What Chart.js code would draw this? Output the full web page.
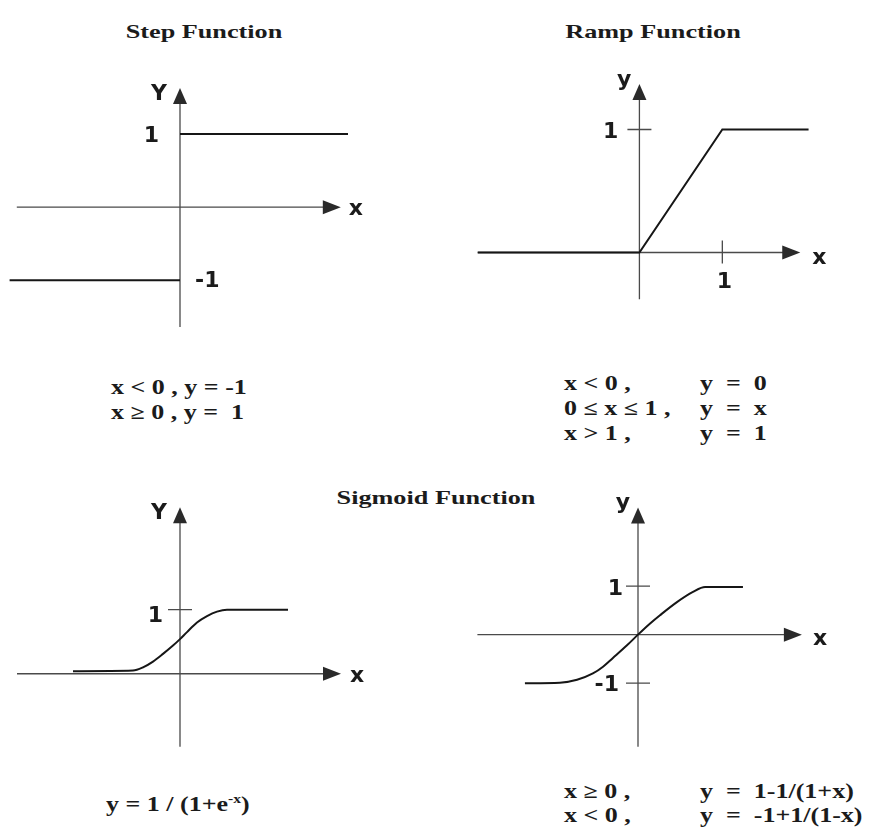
<!DOCTYPE html>
<html>
<head>
<meta charset="utf-8">
<script src="https://cdn.jsdelivr.net/npm/chart.js@4.4.1/dist/chart.umd.min.js"></script>
<style>
body { margin: 0; background: #fff; width: 872px; height: 834px; position: relative; overflow: hidden;
       font-family: "Liberation Serif", "Times New Roman", serif; color: #1b1b1b; }
canvas { position: absolute; }
.t { position: absolute; font-weight: bold; white-space: pre; line-height: 1; }
.title { font-size: 19px; transform: translate(-50%, -50%) scaleX(1.38); }
.eq { font-size: 20px; transform-origin: 0 50%; transform: translateY(-50%) scaleX(1.3); }
sup { font-size: 12px; vertical-align: 8px; }
</style>
</head>
<body>

<div class="t title" style="left:204px; top:31px">Step Function</div>
<div class="t title" style="left:653px; top:31px">Ramp Function</div>
<div class="t title" style="left:436px; top:497px">Sigmoid Function</div>

<canvas id="stepChart" width="380" height="285" style="left:0px; top:61px"></canvas>
<canvas id="rampChart" width="398" height="246" style="left:457px; top:68px"></canvas>
<canvas id="sigChart" width="380" height="269" style="left:0px; top:488px"></canvas>
<canvas id="bipChart" width="396" height="267" style="left:462px; top:489px"></canvas>

<!-- equations -->
<div class="t eq" style="left:111px; top:387px">x &lt; 0 , y = -1</div>
<div class="t eq" style="left:111px; top:412px">x ≥ 0 , y =  1</div>

<div class="t eq" style="left:564px; top:383px">x &lt; 0 ,</div>
<div class="t eq" style="left:700px; top:383px">y  =  0</div>
<div class="t eq" style="left:564px; top:408px">0 ≤ x ≤ 1 ,</div>
<div class="t eq" style="left:700px; top:408px">y  =  x</div>
<div class="t eq" style="left:564px; top:433px">x &gt; 1 ,</div>
<div class="t eq" style="left:700px; top:433px">y  =  1</div>

<div class="t eq" style="left:106px; top:803px">y = 1 / (1+e<sup>-x</sup>)</div>

<div class="t eq" style="left:564px; top:791px">x ≥ 0 ,</div>
<div class="t eq" style="left:700px; top:791px">y  =  1-1/(1+x)</div>
<div class="t eq" style="left:564px; top:815px">x &lt; 0 ,</div>
<div class="t eq" style="left:700px; top:815px">y  =  -1+1/(1-x)</div>

<script>
// step function, two halves
const stepNegX = [-2.13, 0];
const stepNegY = [-1, -1];
const stepPosX = [0, 2.1];
const stepPosY = [1, 1];

// ramp function
const rampX = [-1.95, 0, 1, 2.04];
const rampY = [0, 0, 1, 1];

// sigmoid (0..1)
const sigX = [-10.7, -4.7, -3.7, -2.7, -1.7, -0.7, 0, 0.7, 1.7, 2.7, 3.7, 4.7, 10.8];
const sigY = [0.04, 0.05, 0.1, 0.19, 0.31, 0.44, 0.54, 0.65, 0.8, 0.9, 0.97, 1, 1];

// bipolar sigmoid (-1..1)
const bipX = [-5.14, -3.55, -2.77, -2.05, -1.59, -1.14, -0.5, 0, 0.55, 1, 1.77, 2.5, 3.05, 4.77];
const bipY = [-1, -0.99, -0.93, -0.8, -0.66, -0.48, -0.22, 0, 0.23, 0.4, 0.67, 0.88, 0.98, 0.98];

const pts = (xs, ys) => xs.map((x, i) => ({ x: x, y: ys[i] }));

const LABEL_FONT = 'bold 22px "DejaVu Sans", Verdana, sans-serif';

function axesPlugin(cfg) {
    return {
        id: 'axes',
        beforeDatasetsDraw(chart) {
            const ctx = chart.ctx;
            const sx = chart.scales.x, sy = chart.scales.y;
            const ox = sx.getPixelForValue(0), oy = sy.getPixelForValue(0);
            const xl = sx.getPixelForValue(cfg.xAxis[0]), xr = sx.getPixelForValue(cfg.xAxis[1]);
            const yb = sy.getPixelForValue(cfg.yAxis[0]), yt = sy.getPixelForValue(cfg.yAxis[1]);
            ctx.save();
            ctx.strokeStyle = '#4a4a4a';
            ctx.fillStyle = '#2a2a2a';
            ctx.lineWidth = 1.3;
            ctx.beginPath();
            ctx.moveTo(xl, oy); ctx.lineTo(xr - 6, oy);
            ctx.moveTo(ox, yb); ctx.lineTo(ox, yt + 6);
            // tick marks
            (cfg.yTicks || []).forEach(v => {
                const p = sy.getPixelForValue(v);
                ctx.moveTo(ox - 12, p); ctx.lineTo(ox + 12, p);
            });
            (cfg.xTicks || []).forEach(v => {
                const p = sx.getPixelForValue(v);
                ctx.moveTo(p, oy - 12); ctx.lineTo(p, oy + 11);
            });
            ctx.stroke();
            // arrow heads
            ctx.beginPath();
            ctx.moveTo(xr, oy); ctx.lineTo(xr - 18, oy - 7); ctx.lineTo(xr - 18, oy + 7); ctx.closePath();
            ctx.fill();
            ctx.beginPath();
            ctx.moveTo(ox, yt); ctx.lineTo(ox - 7, yt + 16); ctx.lineTo(ox + 7, yt + 16); ctx.closePath();
            ctx.fill();
            ctx.restore();
        },
        afterDatasetsDraw(chart) {
            const ctx = chart.ctx;
            const sx = chart.scales.x, sy = chart.scales.y;
            ctx.save();
            ctx.font = LABEL_FONT;
            ctx.fillStyle = '#1b1b1b';
            ctx.textBaseline = 'alphabetic';
            cfg.labels.forEach(l => {
                ctx.textAlign = l.align;
                ctx.fillText(l.text, sx.getPixelForValue(l.at[0]) + l.dx, sy.getPixelForValue(l.at[1]) + l.dy);
            });
            ctx.restore();
        }
    };
}

function lineSet(data, smooth) {
    return {
        data: data,
        borderColor: '#161616',
        borderWidth: 2,
        pointRadius: 0,
        fill: false,
        tension: 0,
        cubicInterpolationMode: smooth ? 'monotone' : 'default'
    };
}

function makeChart(id, datasets, xr, yr, axisCfg) {
    return new Chart(document.getElementById(id).getContext('2d'), {
        type: 'line',
        data: { datasets: datasets },
        options: {
            responsive: false,
            animation: false,
            layout: { padding: 0 },
            plugins: { legend: { display: false }, tooltip: { enabled: false } },
            scales: {
                x: { type: 'linear', min: xr[0], max: xr[1], display: false },
                y: { type: 'linear', min: yr[0], max: yr[1], display: false }
            }
        },
        plugins: [axesPlugin(axisCfg)]
    });
}

// Step Function
makeChart('stepChart',
    [lineSet(pts(stepNegX, stepNegY)), lineSet(pts(stepPosX, stepPosY))],
    [-2.25, 2.5], [-1.9, 2],
    {
        xAxis: [-2.04, 2.01], yAxis: [-1.64, 1.63],
        labels: [
            { text: 'Y', at: [0, 1.63], dx: -13, dy: 12, align: 'right' },
            { text: '1', at: [0, 1], dx: -21, dy: 8, align: 'right' },
            { text: '-1', at: [0, -1], dx: 15, dy: 7, align: 'left' },
            { text: 'x', at: [2.01, 0], dx: 8, dy: 8, align: 'left' }
        ]
    });

// Ramp Function
makeChart('rampChart',
    [lineSet(pts(rampX, rampY))],
    [-2.2, 2.6], [-0.5, 1.5],
    {
        xAxis: [-1.95, 1.94], yAxis: [-0.38, 1.37],
        yTicks: [1], xTicks: [1],
        labels: [
            { text: 'y', at: [0, 1.37], dx: -8, dy: 2, align: 'right' },
            { text: '1', at: [0, 1], dx: -21, dy: 8, align: 'right' },
            { text: '1', at: [1, 0], dx: 2, dy: 35, align: 'center' },
            { text: 'x', at: [1.94, 0], dx: 12, dy: 11, align: 'left' }
        ]
    });

// Sigmoid 0..1
makeChart('sigChart',
    [lineSet(pts(sigX, sigY), true)],
    [-18, 20], [-1.3, 2.9],
    {
        xAxis: [-16.3, 16.1], yAxis: [-1.14, 2.6],
        yTicks: [1],
        labels: [
            { text: 'Y', at: [0, 2.6], dx: -13, dy: 12, align: 'right' },
            { text: '1', at: [0, 1], dx: -17, dy: 12, align: 'right' },
            { text: 'x', at: [16.1, 0], dx: 9, dy: 8, align: 'left' }
        ]
    });

// Sigmoid -1..1
makeChart('bipChart',
    [lineSet(pts(bipX, bipY), true)],
    [-8, 10], [-2.5, 3.0],
    {
        xAxis: [-7.3, 7.45], yAxis: [-2.31, 2.62],
        yTicks: [1, -1],
        labels: [
            { text: 'y', at: [0, 2.62], dx: -8, dy: 2, align: 'right' },
            { text: '1', at: [0, 1], dx: -15, dy: 9, align: 'right' },
            { text: '-1', at: [0, -1], dx: -19, dy: 8, align: 'right' },
            { text: 'x', at: [7.45, 0], dx: 11, dy: 10, align: 'left' }
        ]
    });
</script>
</body>
</html>
